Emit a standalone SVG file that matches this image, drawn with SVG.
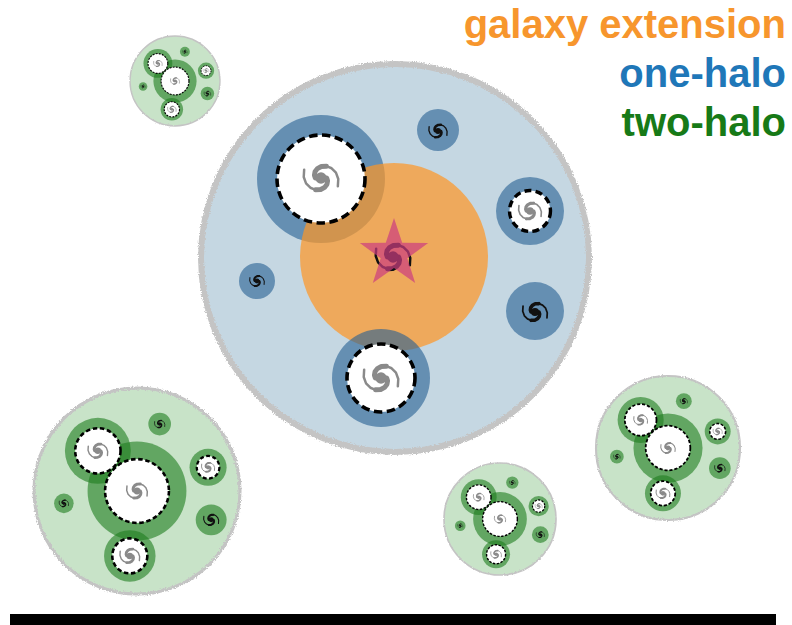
<svg xmlns="http://www.w3.org/2000/svg" width="792" height="625" viewBox="0 0 792 625">
<style>
  .legend{font-family:"Liberation Sans",Arial,Helvetica,sans-serif;font-weight:bold;font-size:40px;text-anchor:end}
  .rim{fill:none;stroke:#c4c4c4}
  .b-ring{fill:#245f93;fill-opacity:.6}
  .g-ring{fill:#1e7d1e;fill-opacity:.6}
  .core{fill:#fff;stroke:#000}
  .sp-grey{color:#8a8a8a}
  .sp-dark{color:#111}
</style>
<defs>
  <!-- grainy edge for the halo outlines -->
  <filter id="rough" x="-6%" y="-6%" width="112%" height="112%">
    <feTurbulence type="fractalNoise" baseFrequency="0.9" numOctaves="2" seed="3" result="n"/>
    <feDisplacementMap in="SourceGraphic" in2="n" scale="4" xChannelSelector="R" yChannelSelector="G"/>
  </filter>
  <!-- two-armed galaxy glyph, radius about 10; arms taper outwards -->
  <g id="spiral" fill="none" stroke="currentColor" stroke-linecap="round" stroke-linejoin="round">
    <path id="arm" stroke-width="1.3" d="M1.5,0 L3,0 L3.46,1.46 L3.16,3.25 L1.92,4.93 L-0.18,6.06 L-2.84,6.20 L-5.59,5.12 L-7.87,2.80 L-9.09,-0.53 L-8.86,-4.37"/>
    <path id="arm-base" stroke-width="2.6" d="M1.5,0 L3,0 L3.46,1.46 L3.16,3.25 L1.92,4.93 L-0.18,6.06 L-2.84,6.20"/>
    <use href="#arm" transform="rotate(180)"/>
    <use href="#arm-base" transform="rotate(180)"/>
    <circle r="3" fill="currentColor" stroke="none"/>
  </g>
  <!-- two-halo template: unit halo of radius 100 centred on the origin -->
  <g id="two-halo-body">
    <circle r="100" fill="#c8e3c8"/>
    <circle r="100" class="rim" stroke-width="3" filter="url(#rough)"/>
    <circle cx="-38" cy="-39" r="32" class="g-ring"/>
    <circle cx="0" cy="0" r="48" class="g-ring"/>
    <circle cx="-7" cy="63" r="25" class="g-ring"/>
    <circle cx="69" cy="-23" r="18" class="g-ring"/>
    <circle cx="22" cy="-65" r="11" class="g-ring"/>
    <circle cx="-71" cy="12" r="9.5" class="g-ring"/>
    <circle cx="72" cy="28" r="15" class="g-ring"/>
    <circle cx="-38" cy="-39" r="22" class="core" stroke-width="2.5" stroke-dasharray="4.4 2.6"/>
    <circle cx="0" cy="0" r="31" class="core" stroke-width="2.5" stroke-dasharray="4.4 2.6"/>
    <circle cx="-7" cy="63" r="17" class="core" stroke-width="2.5" stroke-dasharray="4.4 2.6"/>
    <circle cx="69" cy="-23" r="11" class="core" stroke-width="2.2" stroke-dasharray="3.8 2.4"/>
    <use href="#spiral" class="sp-grey" transform="translate(-38,-39) scale(1.05)"/>
    <use href="#spiral" class="sp-grey" transform="translate(0,0) scale(1.1)"/>
    <use href="#spiral" class="sp-grey" transform="translate(-7,63) scale(1.05)"/>
    <use href="#spiral" class="sp-grey" transform="translate(69,-23) scale(0.7)"/>
    <use href="#spiral" class="sp-dark" transform="translate(22,-65) scale(0.55)"/>
    <use href="#spiral" class="sp-dark" transform="translate(-71,12) scale(0.5)"/>
    <use href="#spiral" class="sp-dark" transform="translate(72,28) scale(0.8)"/>
  </g>
</defs>

<rect width="792" height="625" fill="#fff"/>

<!-- central halo: one-halo term with the galaxy extension -->
<g id="main-halo">
  <circle cx="395" cy="258" r="194" fill="#c5d7e2"/>
  <circle cx="395" cy="258" r="194" class="rim" stroke-width="6" filter="url(#rough)"/>
  <circle cx="321" cy="179" r="64" class="b-ring"/>
  <circle cx="394" cy="257" r="94" fill="#ff9623" fill-opacity="0.7"/>
  <circle cx="530" cy="211" r="34" class="b-ring"/>
  <circle cx="381" cy="378" r="49" class="b-ring"/>
  <circle cx="438" cy="130" r="21" class="b-ring"/>
  <circle cx="257" cy="281" r="18" class="b-ring"/>
  <circle cx="535" cy="311" r="29" class="b-ring"/>
  <circle cx="321" cy="179" r="44" class="core" stroke-width="3.6" stroke-dasharray="8.5 4.5"/>
  <circle cx="530" cy="211" r="20.5" class="core" stroke-width="3.4" stroke-dasharray="7 4.3"/>
  <circle cx="381" cy="378" r="34" class="core" stroke-width="3.6" stroke-dasharray="8.5 4.5"/>
  <use href="#spiral" class="sp-grey" transform="translate(321,178) scale(1.9)"/>
  <use href="#spiral" class="sp-grey" transform="translate(530,211) scale(1.25)"/>
  <use href="#spiral" class="sp-grey" transform="translate(381,378) scale(1.9)"/>
  <use href="#spiral" class="sp-dark" transform="translate(438,131) scale(1.0)"/>
  <use href="#spiral" class="sp-dark" transform="translate(535,312) scale(1.35)"/>
  <use href="#spiral" class="sp-dark" transform="translate(257,281) scale(0.8)"/>
  <use href="#spiral" class="sp-dark" transform="translate(393,257) scale(1.9)"/>
  <polygon points="394,218 402.2,242.7 428.2,242.9 407.3,258.3 415.2,283.1 394,268 372.8,283.1 380.7,258.3 359.8,242.9 385.8,242.7" fill="#cc3d80" fill-opacity="0.7"/>
</g>

<!-- neighbouring halos: two-halo term -->
<g id="halo-top-left">
  <use href="#two-halo-body" transform="translate(175,81) scale(0.45)"/>
</g>
<g id="halo-bottom-left">
  <use href="#two-halo-body" transform="translate(137,491) scale(1.03)"/>
</g>
<g id="halo-bottom-middle">
  <use href="#two-halo-body" transform="translate(500,519) scale(0.56)"/>
</g>
<g id="halo-right">
  <use href="#two-halo-body" transform="translate(668,448) scale(0.72)"/>
</g>

<!-- legend -->
<g id="legend">
  <text class="legend" x="786" y="38" fill="#f7962d">galaxy extension</text>
  <text class="legend" x="786" y="87" fill="#1f77b8">one-halo</text>
  <text class="legend" x="786" y="136" fill="#177a17">two-halo</text>
</g>

<rect id="base-bar" x="10" y="614" width="766" height="11" fill="#000"/>
</svg>
